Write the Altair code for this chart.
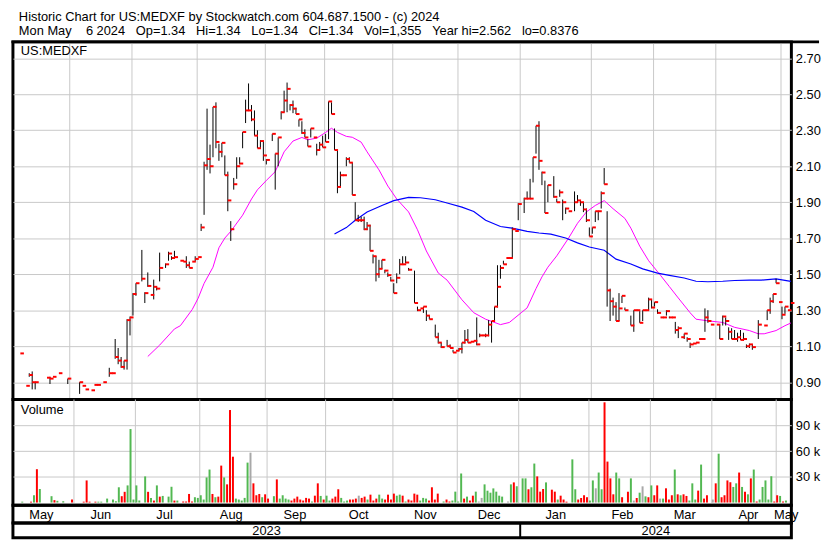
import altair as alt
import pandas as pd

FONT = "Liberation Sans"
GRID = "#c8c8c8"
NB = "\u00a0"


def gap(n):
    return " " + NB * (n - 1)


TITLE1 = "Historic Chart for US:MEDXF by Stockwatch.com 604.687.1500 - (c) 2024"
TITLE2 = ("Mon May" + gap(4) + "6 2024" + gap(3) + "Op=1.34" + gap(3) + "Hi=1.34" + gap(3) +
          "Lo=1.34" + gap(3) + "Cl=1.34" + gap(3) + "Vol=1,355" + gap(3) + "Year hi=2.562" +
          gap(3) + "lo=0.8376")
SYMBOL = "US:MEDXF"

# trading-day slot of each price bar, with high / low / close
p_day = [2, 4, 5, 6, 7, 11, 12, 13, 15, 18, 22, 23, 24, 26, 27, 28, 30, 32, 33, 34,
         35, 36, 37, 38, 39, 40, 41, 43, 44, 45, 46, 47, 48, 49, 51, 52, 53, 54, 56, 57,
         58, 59, 60, 61, 62, 63, 64, 65, 66, 67, 68, 69, 70, 71, 72, 73, 74, 75, 76, 77,
         78, 79, 80, 81, 82, 83, 84, 85, 87, 88, 89, 90, 91, 92, 93, 94, 95, 96, 97, 98,
         99, 100, 101, 102, 103, 104, 105, 106, 107, 108, 109, 110, 111, 112, 113, 114, 115, 116, 117, 118,
         119, 120, 121, 122, 123, 124, 125, 126, 127, 128, 129, 130, 131, 132, 133, 135, 136, 137, 138, 139,
         140, 142, 143, 144, 146, 147, 148, 149, 150, 151, 152, 153, 154, 155, 156, 157, 158, 159, 160, 161,
         162, 163, 164, 165, 166, 167, 168, 169, 170, 172, 173, 174, 175, 176, 177, 178, 179, 180, 182, 183,
         184, 185, 186, 187, 189, 190, 191, 192, 193, 194, 195, 196, 197, 198, 199, 200, 201, 202, 203, 204,
         205, 206, 208, 209, 210, 211, 212, 213, 214, 215, 216, 217, 218, 219, 220, 221, 222, 223, 224, 225,
         226, 227, 228, 229, 230, 231, 232, 233, 234, 235, 237, 238, 239, 240, 241, 242, 243, 244, 245, 246,
         247, 248, 249, 251, 253, 254, 255, 256, 257, 258, 259, 260, 261, 262]
p_hi = [1.06, 0.88, 0.95, 0.96, 0.90, 0.925, 0.93, 0.93, 0.95, 0.92, 0.90, 0.88, 0.86, 0.855, 0.885, 0.885, 0.90, 0.98, 0.95, 1.14,
        1.09, 1.04, 1.02, 1.25, 1.265, 1.395, 1.45, 1.635, 1.40, 1.51, 1.385, 1.47, 1.43, 1.62, 1.56, 1.625, 1.60, 1.63, 1.575, 1.57,
        1.60, 1.57, 1.57, 1.60, 1.595, 1.78, 2.125, 2.42, 2.22, 2.43, 2.455, 2.225, 2.23, 2.16, 2.07, 1.795, 2.035, 2.15, 2.15, 2.29,
        2.47, 2.56, 2.44, 2.41, 2.30, 2.245, 2.24, 2.14, 2.28, 2.17, 2.26, 2.405, 2.52, 2.565, 2.445, 2.465, 2.425, 2.36, 2.35, 2.305,
        2.25, 2.31, 2.26, 2.225, 2.235, 2.27, 2.28, 2.46, 2.455, 2.31, 2.19, 2.07, 2.05, 2.15, 2.15, 2.12, 1.90, 1.83, 1.82, 1.82,
        1.79, 1.775, 1.61, 1.60, 1.58, 1.58, 1.525, 1.51, 1.485, 1.45, 1.505, 1.585, 1.60, 1.60, 1.535, 1.52, 1.32, 1.31, 1.32, 1.30,
        1.27, 1.22, 1.175, 1.12, 1.135, 1.11, 1.08, 1.075, 1.09, 1.12, 1.19, 1.195, 1.125, 1.13, 1.26, 1.17, 1.16, 1.17, 1.245, 1.24,
        1.32, 1.55, 1.55, 1.575, 1.59, 1.59, 1.76, 1.74, 1.895, 1.925, 1.96, 2.03, 2.15, 2.325, 2.35, 2.07, 2.02, 1.995, 2.045, 1.92,
        1.97, 1.915, 1.87, 1.85, 1.96, 1.94, 1.91, 1.90, 1.865, 1.76, 1.76, 1.85, 1.85, 1.96, 2.09, 1.85, 1.42, 1.37, 1.345, 1.395,
        1.38, 1.315, 1.27, 1.30, 1.30, 1.295, 1.30, 1.30, 1.37, 1.36, 1.345, 1.305, 1.26, 1.26, 1.30, 1.265, 1.26, 1.235, 1.21, 1.15,
        1.17, 1.15, 1.12, 1.115, 1.12, 1.14, 1.14, 1.31, 1.30, 1.22, 1.22, 1.22, 1.27, 1.26, 1.205, 1.20, 1.19, 1.175, 1.19, 1.175,
        1.11, 1.115, 1.11, 1.245, 1.215, 1.30, 1.37, 1.39, 1.475, 1.345, 1.32, 1.32, 1.30, 1.34]
p_lo = [1.06, 0.88, 0.93, 0.86, 0.86, 0.925, 0.89, 0.93, 0.95, 0.89, 0.835, 0.88, 0.86, 0.855, 0.885, 0.885, 0.90, 0.93, 0.95, 1.03,
        1.00, 0.98, 0.97, 0.97, 1.16, 1.27, 1.38, 1.46, 1.34, 1.43, 1.385, 1.36, 1.41, 1.46, 1.535, 1.575, 1.58, 1.595, 1.575, 1.57,
        1.535, 1.535, 1.57, 1.57, 1.595, 1.74, 1.83, 2.08, 2.06, 2.15, 2.20, 2.13, 2.15, 2.05, 1.85, 1.685, 1.97, 2.03, 2.11, 2.20,
        2.34, 2.41, 2.35, 2.27, 2.20, 2.20, 2.13, 2.11, 2.24, 1.97, 2.10, 2.36, 2.40, 2.40, 2.41, 2.395, 2.39, 2.32, 2.28, 2.26,
        2.21, 2.26, 2.26, 2.16, 2.19, 2.205, 2.235, 2.25, 2.39, 2.19, 1.95, 1.985, 2.05, 2.10, 2.12, 1.94, 1.80, 1.79, 1.79, 1.745,
        1.745, 1.63, 1.56, 1.46, 1.48, 1.53, 1.505, 1.485, 1.46, 1.395, 1.45, 1.50, 1.555, 1.56, 1.52, 1.34, 1.295, 1.31, 1.285, 1.24,
        1.25, 1.15, 1.115, 1.09, 1.10, 1.09, 1.065, 1.075, 1.075, 1.06, 1.115, 1.12, 1.125, 1.13, 1.105, 1.15, 1.16, 1.15, 1.155, 1.12,
        1.235, 1.315, 1.475, 1.555, 1.59, 1.59, 1.59, 1.74, 1.80, 1.84, 1.92, 1.92, 2.01, 2.17, 2.08, 1.995, 1.84, 1.90, 1.925, 1.90,
        1.93, 1.80, 1.835, 1.85, 1.85, 1.90, 1.88, 1.845, 1.79, 1.71, 1.725, 1.79, 1.80, 1.865, 2.00, 1.32, 1.24, 1.27, 1.24, 1.24,
        1.34, 1.30, 1.215, 1.18, 1.30, 1.23, 1.24, 1.30, 1.30, 1.31, 1.32, 1.28, 1.26, 1.26, 1.27, 1.255, 1.26, 1.17, 1.145, 1.15,
        1.14, 1.125, 1.09, 1.115, 1.12, 1.14, 1.14, 1.18, 1.23, 1.22, 1.22, 1.14, 1.215, 1.215, 1.135, 1.14, 1.14, 1.125, 1.135, 1.13,
        1.09, 1.09, 1.08, 1.14, 1.215, 1.245, 1.28, 1.34, 1.45, 1.345, 1.25, 1.28, 1.30, 1.34]
p_cl = [1.06, 0.88, 0.94, 0.90, 0.90, 0.925, 0.92, 0.93, 0.95, 0.92, 0.90, 0.88, 0.86, 0.855, 0.885, 0.885, 0.90, 0.95, 0.95, 1.04,
        1.02, 0.985, 1.02, 1.245, 1.26, 1.39, 1.45, 1.475, 1.395, 1.435, 1.385, 1.43, 1.42, 1.535, 1.555, 1.615, 1.59, 1.595, 1.575, 1.57,
        1.55, 1.535, 1.57, 1.585, 1.595, 1.76, 2.105, 2.14, 2.10, 2.43, 2.235, 2.18, 2.23, 2.05, 1.91, 1.75, 2.00, 2.10, 2.115, 2.29,
        2.41, 2.41, 2.36, 2.27, 2.20, 2.24, 2.16, 2.135, 2.28, 2.17, 2.26, 2.40, 2.465, 2.53, 2.44, 2.42, 2.39, 2.36, 2.285, 2.26,
        2.21, 2.31, 2.26, 2.19, 2.22, 2.205, 2.235, 2.46, 2.39, 2.19, 1.985, 2.05, 2.05, 2.14, 2.12, 1.94, 1.80, 1.80, 1.80, 1.75,
        1.77, 1.63, 1.60, 1.50, 1.53, 1.58, 1.52, 1.495, 1.465, 1.395, 1.48, 1.555, 1.555, 1.565, 1.525, 1.34, 1.30, 1.31, 1.32, 1.27,
        1.25, 1.15, 1.12, 1.095, 1.10, 1.09, 1.065, 1.075, 1.085, 1.12, 1.135, 1.12, 1.125, 1.13, 1.11, 1.16, 1.16, 1.16, 1.22, 1.24,
        1.32, 1.43, 1.535, 1.555, 1.59, 1.59, 1.75, 1.74, 1.89, 1.92, 1.92, 1.92, 2.15, 2.325, 2.13, 2.065, 1.84, 1.995, 1.93, 1.90,
        1.955, 1.90, 1.865, 1.85, 1.90, 1.91, 1.90, 1.86, 1.80, 1.71, 1.76, 1.85, 1.85, 1.95, 2.00, 1.41, 1.35, 1.32, 1.24, 1.31,
        1.38, 1.30, 1.215, 1.30, 1.30, 1.23, 1.30, 1.30, 1.36, 1.315, 1.345, 1.285, 1.26, 1.26, 1.295, 1.26, 1.26, 1.19, 1.20, 1.15,
        1.17, 1.14, 1.11, 1.115, 1.12, 1.14, 1.14, 1.26, 1.24, 1.22, 1.22, 1.14, 1.265, 1.24, 1.18, 1.14, 1.14, 1.15, 1.135, 1.14,
        1.10, 1.11, 1.095, 1.22, 1.215, 1.30, 1.35, 1.39, 1.45, 1.345, 1.275, 1.32, 1.30, 1.34]

# volume bars: slot, shares, direction (g = up, r = down, n = unchanged)
v_day = [1, 4, 5, 6, 7, 11, 12, 13, 15, 18,
         22, 23, 24, 26, 27, 28, 30, 32, 33, 34,
         35, 36, 37, 38, 39, 40, 41, 43, 44, 45,
         46, 47, 48, 49, 51, 52, 53, 54, 56, 57,
         58, 59, 60, 61, 62, 63, 64, 65, 66, 67,
         68, 69, 70, 71, 72, 73, 74, 75, 76, 77,
         78, 79, 80, 81, 82, 83, 84, 85, 87, 88,
         89, 90, 91, 92, 93, 94, 95, 96, 97, 98,
         99, 100, 101, 102, 103, 104, 105, 106, 107, 108,
         109, 110, 111, 112, 113, 114, 115, 116, 117, 118,
         119, 120, 121, 122, 123, 124, 125, 126, 127, 128,
         129, 130, 131, 132, 133, 134, 135, 136, 137, 138,
         139, 140, 141, 142, 143, 145, 146, 147, 148, 149,
         150, 151, 152, 153, 154, 155, 156, 157, 158, 159,
         160, 161, 162, 163, 164, 165, 167, 168, 169, 170,
         172, 173, 174, 175, 176, 177, 178, 179, 180, 182,
         183, 184, 185, 186, 187, 189, 190, 191, 192, 193,
         194, 195, 196, 197, 198, 199, 200, 201, 202, 203,
         204, 205, 206, 208, 209, 210, 211, 212, 213, 214,
         215, 216, 217, 218, 219, 220, 221, 222, 223, 224,
         225, 226, 227, 228, 229, 230, 231, 232, 233, 234,
         235, 237, 238, 239, 240, 241, 242, 243, 244, 245,
         246, 247, 248, 249, 250, 251, 252, 253, 254, 255,
         256, 257, 258, 259, 260, 261, 262]
v_vol = [1000, 1000, 8500, 38900, 15800, 7400, 2800, 2000, 1500, 3500,
         1000, 25800, 1000, 1000, 1000, 1000, 4600, 3500, 1500, 17800,
         7400, 12500, 20000, 85800, 3500, 20000, 2300, 30500, 12500, 5400,
         2300, 20000, 6900, 7700, 6900, 18400, 2300, 2300, 1200, 1200,
         10000, 1200, 6200, 5400, 8500, 3500, 29300, 38500, 10000, 6200,
         6900, 43100, 29300, 21200, 108000, 53500, 4600, 3500, 2300, 5400,
         46600, 58200, 22400, 8500, 10000, 6200, 9600, 4600, 7400, 27000,
         4600, 8500, 4600, 3500, 2300, 4600, 6900, 3500, 2300, 5400,
         4600, 1200, 8000, 22400, 7700, 3500, 8000, 2300, 4600, 6900,
         15500, 5400, 1200, 2300, 3500, 3500, 4600, 8000, 5400, 6900,
         3500, 9200, 2300, 4600, 9200, 4600, 3500, 9200, 3500, 10400,
         8000, 9200, 8000, 1200, 3500, 2300, 10400, 9200, 2300, 5400,
         4600, 2300, 17800, 3500, 10400, 1200, 3500, 1200, 2300, 12700,
         1200, 33900, 4600, 6900, 2300, 8000, 12700, 1200, 5400, 21200,
         13800, 11500, 16500, 12700, 8000, 6900, 1200, 21200, 23500, 19000,
         28200, 28200, 15500, 17800, 45500, 30500, 12700, 15800, 23500, 15000,
         12700, 3500, 8000, 3500, 1000, 50400, 15500, 3500, 5300, 8500,
         6200, 2300, 25800, 16600, 35000, 15500, 117000, 47800, 28200, 9600,
         35000, 28200, 6200, 12600, 28200, 2300, 5300, 11500, 18900, 7200,
         6200, 20000, 8500, 20000, 4600, 4600, 16600, 3500, 8500, 38500,
         9600, 8500, 9600, 7700, 2300, 22400, 3500, 13900, 44300, 4600,
         8500, 3500, 22400, 57000, 6200, 8500, 25800, 23700, 18200, 22400,
         35000, 18200, 12600, 9600, 28200, 38500, 1200, 3500, 18200, 25800,
         3500, 30700, 1200, 8500, 7700, 1200, 2300]
v_dir = list("grgrggrggr" "rrrrgggggg" "rrggggggrg" "rgrgggrgrr" "rrggggggrg"
             "rrgrrrgggg" "gnrrrgrrgr" "ggggrrrrrr" "rgrrgrggrr" "rgggrrrnrr"
             "grrrggrrrr" "ggrgrrrrgg" "grrrrgrrgg" "ggrgrrgnng" "ggggggngrg"
             "ggrggrrrgr" "rgrrrggrrr" "rggnggrrrr" "ggrrgnrgng" "rgrrngrrrg"
             "rgrrgggrgr" "rnrgrrrrgg" "rgrgrgrggg" "ggrrgrg")

# moving averages (slot, price)
ma_short_day = [45, 49, 54, 56, 60, 62, 64, 67, 69, 71, 73, 77, 80, 82, 85, 88, 91, 94, 97, 99,
                102, 105, 107, 109, 112, 114, 117, 119, 123, 126, 129, 133, 136, 139, 143, 146, 151, 155, 159, 164,
                167, 171, 173, 176, 178, 180, 183, 187, 190, 193, 196, 199, 202, 206, 208, 211, 214, 218, 221, 224,
                228, 230, 234, 239, 243, 248, 251, 253, 257, 260, 262]
ma_short = [1.043, 1.106, 1.196, 1.214, 1.304, 1.367, 1.449, 1.539, 1.647, 1.701, 1.738, 1.828, 1.918, 1.969, 2.021, 2.07, 2.18, 2.24, 2.26, 2.247,
            2.256, 2.288, 2.311, 2.288, 2.266, 2.261, 2.234, 2.18, 2.08, 1.99, 1.918, 1.846, 1.747, 1.629, 1.507, 1.467, 1.358, 1.286, 1.25, 1.22,
            1.232, 1.286, 1.313, 1.42, 1.485, 1.539, 1.602, 1.701, 1.783, 1.846, 1.882, 1.909, 1.864, 1.81, 1.756, 1.656, 1.575, 1.494, 1.431, 1.368,
            1.286, 1.25, 1.241, 1.232, 1.205, 1.187, 1.169, 1.169, 1.187, 1.214, 1.229]
ma_long_day = [108, 112, 115, 119, 124, 128, 133, 137, 142, 146, 151, 155, 159, 164, 168, 173, 177, 181, 186, 190,
               194, 199, 203, 208, 212, 217, 221, 226, 230, 234, 239, 243, 248, 252, 257, 262]
ma_long = [1.723, 1.759, 1.80, 1.846, 1.882, 1.909, 1.927, 1.925, 1.914, 1.896, 1.873, 1.849, 1.80, 1.765, 1.756, 1.738, 1.729, 1.723, 1.701, 1.674,
           1.651, 1.633, 1.584, 1.557, 1.53, 1.506, 1.494, 1.479, 1.461, 1.458, 1.461, 1.465, 1.467, 1.467, 1.474, 1.46]

price_ticks = [0.9, 1.0, 1.1, 1.2, 1.3, 1.4, 1.5, 1.6, 1.7, 1.8, 1.9, 2.0, 2.1, 2.2, 2.3, 2.4, 2.5, 2.6, 2.7]
vol_ticks = [30000, 60000, 90000]
month_names = ["May", "Jun", "Jul", "Aug", "Sep", "Oct", "Nov", "Dec", "Jan", "Feb", "Mar", "Apr", "May"]
month_start = [19, 40, 62, 85, 105, 128, 150, 171, 195, 216, 237, 259]
years = ["2023", "2024"]

# ---------- layout ----------
W = 788
H_PRICE = 362
H_VOL = 107
H_MON = 18
H_YEAR = 15
X0, X1 = -0.5, 262.1667

grid_x = [s - 1 / 3 for s in month_start]
edges = [X0] + grid_x + [X1]
month_mid = [(edges[i] + edges[i + 1]) / 2 for i in range(len(month_names))]
jan_edge = grid_x[7]
year_mid = [(X0 + jan_edge) / 2, (jan_edge + X1) / 2]

xscale = alt.Scale(domain=[X0, X1], nice=False, zero=False)


def month_grid():
    return alt.Chart(pd.DataFrame({"g": grid_x})).mark_rule(color=GRID, strokeWidth=1).encode(
        x=alt.X("g:Q", scale=xscale, axis=None))


# ---------- price panel ----------
pdf = pd.DataFrame({"day": p_day, "hi": p_hi, "lo": p_lo, "cl": p_cl})
yscale_p = alt.Scale(domain=[0.804, 2.791], nice=False, zero=False)
yaxis_p = alt.Axis(orient="right", values=price_ticks, format=".2f", grid=True, gridColor=GRID,
                   ticks=False, domain=False, labelFont=FONT, labelFontSize=13, labelColor="black",
                   labelPadding=4, labelOverlap=False, title=None)

hl = alt.Chart(pdf).mark_rule(color="black", strokeWidth=1).encode(
    x=alt.X("day:Q", scale=xscale, axis=None),
    y=alt.Y("lo:Q", scale=yscale_p, axis=yaxis_p),
    y2="hi:Q",
)
closes = alt.Chart(pdf).transform_calculate(d2="datum.day + 1.2").mark_rule(
    color="#ff0000", strokeWidth=2).encode(
    x=alt.X("day:Q", scale=xscale, axis=None), x2="d2:Q", y=alt.Y("cl:Q", scale=yscale_p))

ma1 = alt.Chart(pd.DataFrame({"day": ma_short_day, "v": ma_short})).mark_line(
    color="#ff00ff", strokeWidth=1).encode(
    x=alt.X("day:Q", scale=xscale, axis=None), y=alt.Y("v:Q", scale=yscale_p))
ma2 = alt.Chart(pd.DataFrame({"day": ma_long_day, "v": ma_long})).mark_line(
    color="#0000ff", strokeWidth=1.2).encode(
    x=alt.X("day:Q", scale=xscale, axis=None), y=alt.Y("v:Q", scale=yscale_p))

sym = alt.Chart(pd.DataFrame({"t": [SYMBOL]})).mark_text(
    align="left", baseline="middle", font=FONT, fontSize=13, color="black").encode(
    x=alt.value(8), y=alt.value(9), text="t:N")
topline = alt.Chart(pd.DataFrame({"a": [0]})).mark_rule(color="black", strokeWidth=3).encode(
    x=alt.value(-1.5), x2=alt.value(816), y=alt.value(0))

price = alt.layer(month_grid(), ma1, ma2, hl, closes, sym, topline).properties(width=W, height=H_PRICE)

# ---------- volume panel ----------
vdf = pd.DataFrame({"day": v_day, "vol": v_vol, "dir": v_dir})
yaxis_v = alt.Axis(orient="right", values=vol_ticks, labelExpr="format(datum.value / 1000, 'd') + ' k'",
                   grid=True, gridColor=GRID, ticks=False, domain=False, labelFont=FONT,
                   labelFontSize=13, labelColor="black", labelPadding=4, labelOverlap=False, title=None)
vbars = alt.Chart(vdf).mark_bar(width=2).encode(
    x=alt.X("day:Q", scale=xscale, axis=None),
    y=alt.Y("vol:Q", scale=alt.Scale(domain=[-3100, 120300], nice=False, zero=False), axis=yaxis_v),
    y2=alt.value(H_VOL),
    color=alt.Color("dir:N", scale=alt.Scale(domain=["g", "r", "n"],
                                             range=["#52b852", "#ff0000", "#a8a8a8"]), legend=None),
)
vlabel = alt.Chart(pd.DataFrame({"t": ["Volume"]})).mark_text(
    align="left", baseline="middle", font=FONT, fontSize=13, color="black").encode(
    x=alt.value(8), y=alt.value(11), text="t:N")
volume = alt.layer(month_grid(), vbars, vlabel).properties(width=W, height=H_VOL)

# ---------- month row ----------
months = alt.Chart(pd.DataFrame({"m": month_names, "c": month_mid})).mark_text(
    font=FONT, fontSize=13, baseline="middle", color="black").encode(
    x=alt.X("c:Q", scale=xscale, axis=None), y=alt.value(H_MON / 2 + 0.5), text="m:N"
).properties(width=W, height=H_MON)

# ---------- year row ----------
ytext = alt.Chart(pd.DataFrame({"y": years, "c": year_mid})).mark_text(
    font=FONT, fontSize=13, baseline="middle", color="black").encode(
    x=alt.X("c:Q", scale=xscale, axis=None), y=alt.value(H_YEAR / 2 + 0.5), text="y:N")
ysep = alt.Chart(pd.DataFrame({"s": [jan_edge]})).mark_rule(color="black", strokeWidth=2).encode(
    x=alt.X("s:Q", scale=xscale, axis=None))
yrow = alt.layer(ytext, ysep).properties(width=W, height=H_YEAR)

chart = alt.vconcat(price, volume, months, yrow, spacing=0, bounds="flush").properties(
    padding={"left": 0, "top": 0, "right": 0, "bottom": 0},
    title=alt.TitleParams(text=[TITLE1, TITLE2], anchor="start", frame="group", font=FONT,
                          fontSize=13, fontWeight="normal", color="black", lineHeight=14,
                          offset=1, dx=6),
).configure_view(stroke="black", strokeWidth=3).configure_concat(spacing=0)

chart.save("out.html", embed_options={"renderer": "svg", "actions": False})
